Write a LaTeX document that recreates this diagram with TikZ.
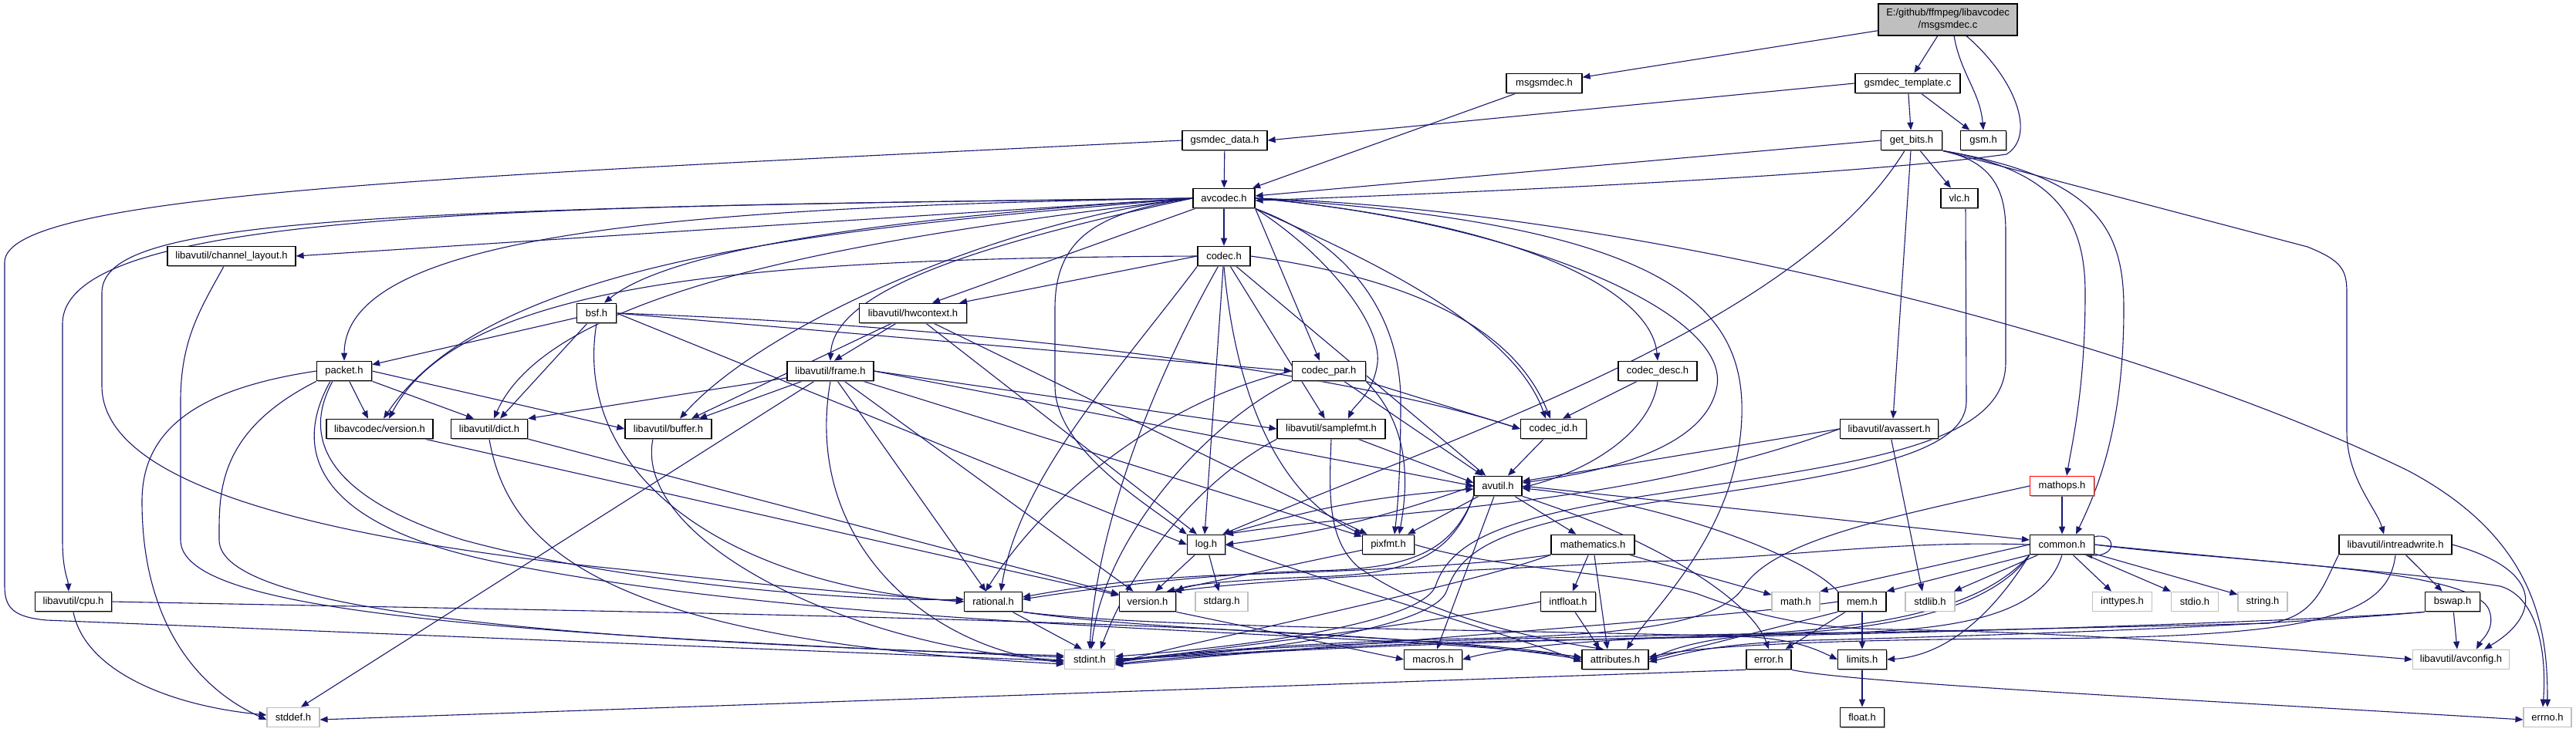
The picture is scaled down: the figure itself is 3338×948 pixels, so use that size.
\documentclass[tikz,border=0pt]{standalone}
\usepackage{fontspec}
\setmainfont{Liberation Sans}
\usetikzlibrary{arrows.meta,shadows}
\definecolor{edgec}{HTML}{191970}
\definecolor{sysc}{HTML}{BFBFBF}
\definecolor{mainc}{HTML}{BFBFBF}
\pgfdeclarelayer{bg}
\pgfsetlayers{bg,main}
\begin{document}
\begin{tikzpicture}[x=1pt,y=-1pt,
  box/.style={draw=black,fill=white,line width=1.2pt,minimum height=25.5pt,inner sep=0pt,
    font=\fontsize{13pt}{16pt}\selectfont,
    drop shadow={shadow xshift=1.3pt,shadow yshift=-1.3pt,fill=black!45,opacity=0.8}},
  sysbox/.style={draw=sysc,fill=white,line width=1.2pt,minimum height=25.5pt,inner sep=0pt,
    font=\fontsize{13pt}{16pt}\selectfont},
  redbox/.style={box,draw=red},
  dep/.style={draw=edgec,line width=1.1pt,-{Triangle[length=10pt,width=8pt]}}]
\useasboundingbox (0,0) rectangle (3338,948);
% ---------------- nodes ----------------
\node[box,fill=mainc,minimum width=180pt,minimum height=41pt,align=center] (main) at (2524,25.5) {E:/github/ffmpeg/libavcodec\\/msgsmdec.c};
\node[box,minimum width=98pt] (msgh) at (2001,108) {msgsmdec.h};
\node[box,minimum width=136pt] (tmpl) at (2472,108) {gsmdec\_template.c};
\node[box,minimum width=110pt] (gdata) at (1587,182) {gsmdec\_data.h};
\node[box,minimum width=79pt] (getbits) at (2477,182) {get\_bits.h};
\node[box,minimum width=59pt] (gsm) at (2570,182) {gsm.h};
\node[box,minimum width=80pt] (avcodec) at (1586,257) {avcodec.h};
\node[box,minimum width=48pt] (vlc) at (2539,257) {vlc.h};
\node[box,minimum width=166pt] (chlayout) at (300,332) {libavutil/channel\_layout.h};
\node[box,minimum width=68pt] (codec) at (1586,332) {codec.h};
\node[box,minimum width=51pt] (bsf) at (773,406) {bsf.h};
\node[box,minimum width=139pt] (hwctx) at (1183,406) {libavutil/hwcontext.h};
\node[box,minimum width=71pt] (packet) at (446,481) {packet.h};
\node[box,minimum width=112pt] (frame) at (1076,481) {libavutil/frame.h};
\node[box,minimum width=95pt] (codecpar) at (1722,481) {codec\_par.h};
\node[box,minimum width=102pt] (codecdesc) at (2148,481) {codec\_desc.h};
\node[box,minimum width=138pt] (lcver) at (492,556) {libavcodec/version.h};
\node[box,minimum width=99pt] (dict) at (634,556) {libavutil/dict.h};
\node[box,minimum width=112pt] (buffer) at (866,556) {libavutil/buffer.h};
\node[box,minimum width=140pt] (samplefmt) at (1725,556) {libavutil/samplefmt.h};
\node[box,minimum width=85pt] (codecid) at (2013,556) {codec\_id.h};
\node[box,minimum width=127pt] (avassert) at (2448,556) {libavutil/avassert.h};
\node[box,minimum width=62pt] (avutil) at (1941,630) {avutil.h};
\node[redbox,minimum width=83pt] (mathops) at (2672,630) {mathops.h};
\node[box,minimum width=49pt] (log) at (1563,706) {log.h};
\node[box,minimum width=67pt] (pixfmt) at (1799,706) {pixfmt.h};
\node[box,minimum width=108pt] (mathem) at (2064,706) {mathematics.h};
\node[box,minimum width=83pt] (common) at (2672,706) {common.h};
\node[box,minimum width=146pt] (intrw) at (3104,706) {libavutil/intreadwrite.h};
\node[box,minimum width=99pt] (cpu) at (95,780) {libavutil/cpu.h};
\node[box,minimum width=75pt] (rational) at (1287,780) {rational.h};
\node[box,minimum width=73pt] (version) at (1487,780) {version.h};
\node[sysbox,minimum width=68pt] (stdarg) at (1583,780) {stdarg.h};
\node[box,minimum width=71pt] (intfloat) at (2032,780) {intfloat.h};
\node[sysbox,minimum width=62pt] (math) at (2327,780) {math.h};
\node[box,minimum width=62pt] (mem) at (2413,780) {mem.h};
\node[sysbox,minimum width=64pt] (stdlib) at (2501,780) {stdlib.h};
\node[sysbox,minimum width=77pt] (inttypes) at (2750,780) {inttypes.h};
\node[sysbox,minimum width=61pt] (stdio) at (2844,780) {stdio.h};
\node[sysbox,minimum width=64pt] (string) at (2932,780) {string.h};
\node[box,minimum width=71pt] (bswap) at (3178,780) {bswap.h};
\node[sysbox,minimum width=65pt] (stdint) at (1412,855) {stdint.h};
\node[box,minimum width=75pt] (macros) at (1857,855) {macros.h};
\node[box,minimum width=86pt] (attrib) at (2093,855) {attributes.h};
\node[box,minimum width=58pt] (error) at (2292,855) {error.h};
\node[box,minimum width=63pt] (limits) at (2413,855) {limits.h};
\node[sysbox,minimum width=125pt] (avconfig) at (3189,855) {libavutil/avconfig.h};
\node[sysbox,minimum width=68pt] (stddef) at (380,930) {stddef.h};
\node[box,minimum width=57pt] (float) at (2413,930) {float.h};
\node[sysbox,minimum width=62pt] (errno) at (3301,930) {errno.h};
% ---------------- edges ----------------
\begin{pgfonlayer}{bg}
\fill[white] (0,0) rectangle (3338,948);
% main file
\draw[dep] (main) -- (msgh);
\draw[dep] (main) -- (tmpl);
\draw[dep] ([xshift=8pt]main.south) to[out=-80,in=95] (gsm.north);
\draw[dep] ([xshift=24pt]main.south) .. controls (2610,100) and (2640,175) .. (2600,200) .. controls (2400,228) and (1900,250) .. ([yshift=-3pt]avcodec.east);
\draw[dep] (msgh) -- (avcodec);
\draw[dep] (tmpl.west) -- (gdata.east);
\draw[dep] (tmpl) -- (getbits);
\draw[dep] (tmpl) -- (gsm);
\draw[dep] (gdata) -- (avcodec);
\draw[dep] (gdata.west) .. controls (600,228) and (6,250) .. (6,340) -- (6,760) .. controls (6,790) and (20,800) .. (60,804) -- ([yshift=-2pt]stdint.west);
% get_bits
\draw[dep] (getbits.west) -- ([yshift=3pt]avcodec.east);
\draw[dep] (getbits) -- (vlc);
\draw[dep] (getbits.south east) .. controls (2660,220) and (2702,280) .. (2702,380) .. controls (2702,500) and (2686,570) .. ([xshift=6pt]mathops.north);
\draw[dep] (getbits.south east) .. controls (2720,230) and (2752,300) .. (2752,400) .. controls (2752,560) and (2715,640) .. ([xshift=18pt]common.north);
\draw[dep] (getbits.south east) -- (2990,320) .. controls (3035,338) and (3041,350) .. (3041,380) -- (3041,560) .. controls (3041,620) and (3080,660) .. ([xshift=-15pt]intrw.north);
\draw[dep] ([xshift=-1pt]getbits.south) -- ([xshift=5pt]avassert.north);
\draw[dep] ([xshift=-9pt]getbits.south) .. controls (2330,420) and (1900,560) .. ([xshift=-4pt]log.north east);
\draw[dep] (getbits.south east) .. controls (2585,210) and (2599,250) .. (2599,300) -- (2599,470) .. controls (2599,580) and (2400,600) .. (2150,640) .. controls (1950,670) and (1880,700) .. (1860,760) .. controls (1840,810) and (1600,840) .. ([yshift=4pt]stdint.east);
\draw[dep] ([xshift=8pt]vlc.south) -- (2548,520) .. controls (2548,590) and (2400,615) .. (2150,650) .. controls (1960,680) and (1895,705) .. (1875,765) .. controls (1860,815) and (1620,848) .. (stdint.east);
% avcodec
\draw[dep] (avcodec.east) .. controls (2100,272) and (2750,430) .. (3120,610) .. controls (3290,700) and (3301,820) .. (errno.north);
\draw[dep] (avcodec.south east) .. controls (1720,330) and (1790,420) .. (1785,470) .. controls (1780,510) and (1755,525) .. ([xshift=22pt]samplefmt.north);
\draw[dep] (avcodec.east) .. controls (2150,290) and (2262,390) .. (2257,540) .. controls (2252,690) and (2140,790) .. ([xshift=15pt]attrib.north);
\draw[dep] (avcodec.east) .. controls (1950,285) and (2240,400) .. (2225,500) .. controls (2210,590) and (2050,615) .. ([yshift=4pt]avutil.east);
\draw[dep] (avcodec.west) .. controls (1300,285) and (990,420) .. ([xshift=15pt]buffer.north);
\draw[dep] (avcodec.west) .. controls (700,268) and (81,270) .. (81,420) -- (81,700) .. controls (81,740) and (88,750) .. ([xshift=-6pt]cpu.north);
\draw[dep] (avcodec.west) -- (chlayout.east);
\draw[dep] (avcodec.west) .. controls (1200,300) and (720,360) .. ([xshift=6pt]dict.north);
\draw[dep] (avcodec.west) .. controls (1250,320) and (1080,380) .. (frame.north);
\draw[dep] (avcodec) -- ([xshift=25pt]hwctx.north);
\draw[dep] (avcodec.west) .. controls (1420,275) and (1367,310) .. (1367,400) -- (1367,500) .. controls (1367,580) and (1480,650) .. (log.north west);
\draw[dep] (avcodec.south east) .. controls (1760,320) and (1815,420) .. (1815,520) .. controls (1815,600) and (1812,650) .. ([xshift=8pt]pixfmt.north);
\draw[dep] (avcodec.west) .. controls (400,270) and (132,290) .. (132,380) -- (132,500) .. controls (132,600) and (300,690) .. (835,741) .. controls (1050,765) and (1150,772) .. (rational.west);
\draw[dep] (avcodec.west) .. controls (1100,285) and (860,330) .. ([xshift=10pt]bsf.north);
\draw[dep] (avcodec) -- (codec);
\draw[dep] (avcodec.east) .. controls (1980,290) and (2140,380) .. (codecdesc.north);
\draw[dep] (avcodec.south east) -- ([xshift=-12pt]codecpar.north);
\draw[dep] (avcodec.south east) .. controls (1760,330) and (1960,420) .. ([xshift=-10pt]codecid.north);
\draw[dep] (avcodec.west) .. controls (900,268) and (447,300) .. (packet.north);
\draw[dep] (avcodec.west) .. controls (1100,295) and (640,330) .. ([xshift=5pt]lcver.north);
% channel_layout, cpu
\draw[dep] ([xshift=-10pt]chlayout.south) .. controls (260,400) and (234,440) .. (234,520) -- (234,700) .. controls (234,790) and (600,820) .. ([yshift=3pt]stdint.west);
\draw[dep] (cpu.south) .. controls (110,870) and (220,915) .. ([yshift=3pt]stddef.west);
\draw[dep] (cpu.east) .. controls (900,795) and (1750,805) .. (attrib.west);
% bsf
\draw[dep] (bsf) -- ([xshift=14pt]dict.north);
\draw[dep] (bsf.east) -- (log.west);
\draw[dep] (bsf.south) .. controls (740,620) and (950,760) .. (rational.west);
\draw[dep] (bsf.east) .. controls (1200,420) and (1700,470) .. (codecid.west);
\draw[dep] (bsf.east) -- (codecpar.west);
\draw[dep] (bsf) -- (packet);
% codec
\draw[dep] (codec) .. controls (1480,520) and (1420,700) .. (stdint.north);
\draw[dep] (codec) -- (avutil);
\draw[dep] (codec.west) -- ([xshift=-10pt]hwctx.north east);
\draw[dep] (codec) -- ([xshift=-2pt]log.north);
\draw[dep] (codec.south) .. controls (1600,500) and (1650,640) .. (pixfmt.north west);
\draw[dep] (codec.south west) .. controls (1450,480) and (1320,620) .. ([xshift=10pt]rational.north);
\draw[dep] (codec) -- (samplefmt);
\draw[dep] (codec.east) .. controls (1820,360) and (1960,420) .. ([xshift=-4pt]codecid.north);
\draw[dep] (codec.west) .. controls (1000,335) and (600,360) .. ([xshift=12pt]lcver.north);
% hwcontext
\draw[dep] (hwctx) -- ([xshift=30pt]buffer.north);
\draw[dep] (hwctx) -- ([xshift=5pt]frame.north);
\draw[dep] (hwctx) -- ([xshift=-12pt]log.north);
\draw[dep] (hwctx) -- (pixfmt);
% frame
\draw[dep] (frame) -- ([xshift=10pt]stddef.north);
\draw[dep] (frame.south) .. controls (1040,700) and (1200,840) .. ([yshift=-4pt]stdint.west);
\draw[dep] (frame.east) -- (avutil.west);
\draw[dep] (frame) -- ([xshift=40pt]buffer.north);
\draw[dep] (frame) -- (dict.north east);
\draw[dep] (frame) -- (rational);
\draw[dep] (frame.east) -- (samplefmt.west);
\draw[dep] (frame) -- (pixfmt);
\draw[dep] (frame) -- (version);
% packet
\draw[dep] (packet.west) .. controls (250,505) and (184,560) .. (184,650) .. controls (184,800) and (250,890) .. ([yshift=-3pt]stddef.west);
\draw[dep] (packet.south west) .. controls (280,560) and (284,640) .. (284,700) .. controls (284,790) and (700,830) .. ([yshift=5pt]stdint.west);
\draw[dep] ([xshift=-15pt]packet.south) .. controls (395,560) and (410,640) .. (600,700) .. controls (800,755) and (1100,780) .. ([yshift=3pt]rational.west);
\draw[dep] ([xshift=-18pt]packet.south) .. controls (380,580) and (400,680) .. (650,730) .. controls (1100,820) and (1750,815) .. ([yshift=3pt]attrib.west);
\draw[dep] (packet.east) -- (buffer.west);
\draw[dep] (packet) -- ([xshift=-20pt]dict.north);
\draw[dep] (packet) -- ([xshift=-15pt]lcver.north);
% codec_par, codec_desc, codec_id
\draw[dep] (codecpar.south west) .. controls (1560,550) and (1430,700) .. ([xshift=2pt]stdint.north);
\draw[dep] (codecpar) -- (avutil);
\draw[dep] (codecpar.west) .. controls (1500,520) and (1350,650) .. ([xshift=-10pt]rational.north);
\draw[dep] (codecpar.south east) .. controls (1815,540) and (1830,600) .. ([xshift=14pt]pixfmt.north);
\draw[dep] (codecpar.south east) -- (codecid.west);
\draw[dep] (codecdesc.south) .. controls (2140,560) and (2060,610) .. ([yshift=-2pt]avutil.east);
\draw[dep] (codecdesc) -- ([xshift=12pt]codecid.north);
\draw[dep] (codecid) -- (avutil);
% version / dict / buffer / samplefmt
\draw[dep] (lcver) -- (version);
\draw[dep] (dict.south) .. controls (660,720) and (800,830) .. ([yshift=-6pt]stdint.west);
\draw[dep] (dict) -- (version);
\draw[dep] ([xshift=-20pt]buffer.south) .. controls (820,700) and (1100,840) .. ([yshift=-1pt]stdint.west);
\draw[dep] (samplefmt.south west) .. controls (1540,630) and (1460,750) .. ([xshift=14pt]stdint.north);
\draw[dep] (samplefmt) -- ([yshift=4pt]avutil.west);
\draw[dep] (samplefmt.south) .. controls (1722,640) and (1720,700) .. (1760,735) .. controls (1850,800) and (2000,830) .. ([xshift=-15pt]attrib.north);
% avassert
\draw[dep] (avassert) -- ([xshift=-10pt]stdlib.north);
\draw[dep] (avassert.west) -- ([yshift=6pt]avutil.east);
\draw[dep] (avassert.west) .. controls (2100,660) and (1800,660) .. (log.north east);
% avutil
\draw[dep] (avutil.east) -- ([yshift=6pt]common.west);
\draw[dep] (avutil.south east) .. controls (2150,700) and (2270,780) .. (error.north);
\draw[dep] (avutil.south west) .. controls (1880,720) and (1820,738) .. (1700,740) .. controls (1550,745) and (1400,765) .. ([yshift=3pt]rational.east);
\draw[dep] (avutil.south west) .. controls (1880,725) and (1820,745) .. (1700,748) .. controls (1600,752) and (1540,758) .. (version.north east);
\draw[dep] (avutil) -- (macros);
\draw[dep] (avutil) -- (mathem);
\draw[dep] (avutil.west) to[bend left=6] (log.east);
\draw[dep] (avutil) -- (pixfmt);
% log
\draw[dep] (log) -- (stdarg);
\draw[dep] (log.east) .. controls (1700,750) and (1950,820) .. ([yshift=-3pt]attrib.west);
\draw[dep] (log) -- ([xshift=10pt]version.north);
\draw[dep] (log.north east) to[bend left=6] ([yshift=-4pt]avutil.west);
% pixfmt
\draw[dep] (pixfmt.east) .. controls (1950,740) and (2100,740) .. (2200,770) .. controls (2280,800) and (2350,815) .. (2450,816) .. controls (2700,820) and (2950,840) .. (avconfig.west);
\draw[dep] (pixfmt) -- ([xshift=25pt]version.north);
% rational, version
\draw[dep] (rational) -- ([xshift=-10pt]stdint.north);
\draw[dep] (rational.south east) .. controls (1500,815) and (1900,815) .. (2250,825) .. controls (2320,827) and (2350,840) .. (limits.west);
\draw[dep] (rational.south east) .. controls (1500,820) and (1900,825) .. ([yshift=2pt]attrib.west);
\draw[dep] (version.south east) -- (macros.west);
% mathematics, intfloat
\draw[dep] (mathem.south west) .. controls (1900,760) and (1550,830) .. ([yshift=-5pt]stdint.east);
\draw[dep] (mathem) -- (math);
\draw[dep] (mathem) -- ([xshift=-10pt]attrib.north);
\draw[dep] (mathem.south west) .. controls (1900,735) and (1700,742) .. (1600,745) .. controls (1450,750) and (1360,768) .. ([yshift=6pt]rational.east);
\draw[dep] (mathem) -- (intfloat);
\draw[dep] (intfloat.west) .. controls (1900,800) and (1600,840) .. ([yshift=-2pt]stdint.east);
\draw[dep] (intfloat) -- ([xshift=-20pt]attrib.north);
% common
\draw[dep] (common.east) .. controls (2900,725) and (3150,745) .. (3240,760) .. controls (3290,775) and (3300,850) .. ([xshift=-6pt]errno.north);
\draw[dep] (common) -- (inttypes);
\draw[dep] (common) -- (stdio);
\draw[dep] (common) -- (string);
\draw[dep] (common.south west) .. controls (2580,800) and (2520,850) .. (limits.east);
\draw[dep] (common.west) -- (math.north east);
\draw[dep] (common.south) .. controls (2650,790) and (2560,815) .. (2400,820) .. controls (2000,825) and (1600,835) .. ([yshift=-4pt]stdint.east);
\draw[dep] (common) -- (stdlib);
\draw[dep] (common.south west) .. controls (2580,790) and (2450,815) .. (2300,822) .. controls (2200,826) and (2160,845) .. (attrib.east);
\draw[dep] (common.south west) .. controls (2560,800) and (2400,818) .. (2200,825) .. controls (2000,832) and (1930,845) .. (macros.east);
\draw[dep] (common.west) .. controls (2450,700) and (2300,725) .. (2130,728) .. controls (1900,740) and (1650,750) .. ([xshift=-3pt]version.north east);
\draw[dep] (common.east) .. controls (2900,730) and (3200,735) .. (3225,790) .. controls (3235,815) and (3215,830) .. ([xshift=20pt]avconfig.north);
\draw[dep] ([yshift=-3pt]common.north east) .. controls (2742,690) and (2745,722) .. ([xshift=-13pt]common.south east);
\draw[dep] (common.south west) -- (mem.north east);
% mem, error, limits
\draw[dep] (mem) -- (limits);
\draw[dep] (mem.west) .. controls (2250,800) and (1700,838) .. ([yshift=-7pt]stdint.east);
\draw[dep] (mem.south west) -- (attrib.east);
\draw[dep] (mem) -- (error);
\draw[dep] (mem.north west) .. controls (2340,720) and (2150,650) .. ([yshift=-3pt]avutil.east);
\draw[dep] (error.south east) .. controls (2400,885) and (2800,905) .. ([yshift=-3pt]errno.west);
\draw[dep] (error.south west) -- ([yshift=-3pt]stddef.east);
\draw[dep] (limits) -- (float);
% mathops
\draw[dep] (mathops) -- (common);
\draw[dep] (mathops.west) .. controls (2450,670) and (2300,700) .. (2260,760) .. controls (2230,810) and (2100,824) .. (1900,828) .. controls (1700,832) and (1500,848) .. ([yshift=-3pt]stdint.east);
% intreadwrite, bswap
\draw[dep] (intrw.south west) .. controls (3010,760) and (3000,800) .. (2940,808) .. controls (2500,820) and (1700,830) .. ([yshift=-6pt]stdint.east);
\draw[dep] (intrw.east) .. controls (3300,740) and (3290,800) .. ([xshift=30pt]avconfig.north);
\draw[dep] (intrw.south) .. controls (3095,800) and (3000,828) .. (2600,828) .. controls (2350,830) and (2200,838) .. ([yshift=3pt]attrib.east);
\draw[dep] (intrw) -- (bswap);
\draw[dep] (bswap.south west) .. controls (3000,805) and (2500,822) .. (2000,830) .. controls (1700,836) and (1550,852) .. ([yshift=1pt]stdint.east);
\draw[dep] (bswap) -- ([xshift=-5pt]avconfig.north);
\draw[dep] (bswap.south west) .. controls (2900,815) and (2500,826) .. (2350,830) .. controls (2220,834) and (2180,848) .. ([yshift=-3pt]attrib.east);
\end{pgfonlayer}
\end{tikzpicture}
\end{document}
